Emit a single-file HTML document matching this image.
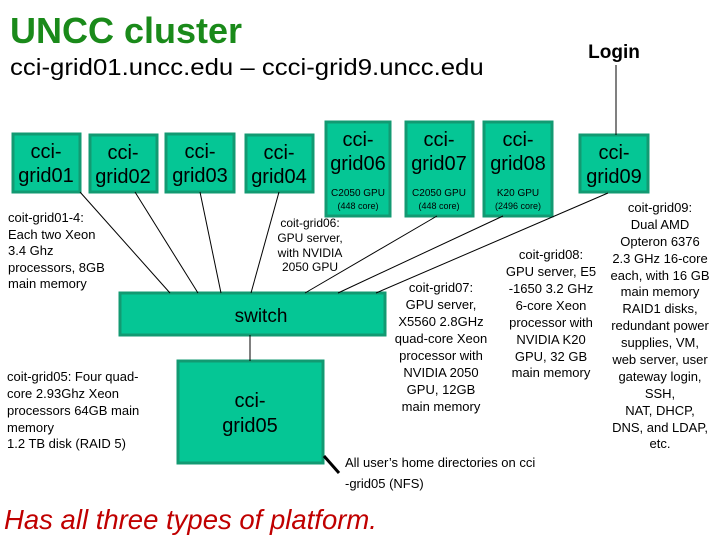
<!DOCTYPE html>
<html><head><meta charset="utf-8"><style>
body{margin:0;background:#fff}
svg{display:block}
text{font-family:"Liberation Sans",sans-serif}
</style></head><body>
<svg width="720" height="540" viewBox="0 0 720 540" xmlns="http://www.w3.org/2000/svg">
<g fill="#05c695" stroke="#129a72" stroke-width="3">
<rect x="13" y="134" width="67" height="58"/>
<rect x="90" y="135" width="67" height="57"/>
<rect x="166" y="134" width="68" height="58"/>
<rect x="246" y="135" width="67" height="57"/>
<rect x="326" y="122" width="64" height="94"/>
<rect x="406" y="122" width="67" height="94"/>
<rect x="484" y="122" width="68" height="94"/>
<rect x="580" y="135" width="68" height="57"/>
<rect x="120" y="293" width="265" height="42"/>
<rect x="178" y="361" width="145" height="102"/>
</g>
<g stroke="#000" stroke-width="1" fill="none">
<line x1="80" y1="192" x2="170" y2="293"/>
<line x1="135" y1="192" x2="198" y2="293"/>
<line x1="200" y1="192" x2="221" y2="293"/>
<line x1="279" y1="192" x2="251" y2="293"/>
<line x1="437" y1="216" x2="305" y2="293"/>
<line x1="503" y1="216" x2="338" y2="293"/>
<line x1="608" y1="193" x2="376" y2="293"/>
<line x1="250" y1="335" x2="250" y2="361"/>
<line x1="616" y1="65" x2="616" y2="135"/>
<line x1="324" y1="456" x2="339" y2="473" stroke-width="3"/>
</g>
<text x="10" y="43" font-size="36" font-weight="bold" fill="#1a8a1a">UNCC cluster</text>
<text x="10" y="75" font-size="23" fill="#000" transform="scale(1.12,1)" style="transform-origin:10px 0">cci-grid01.uncc.edu – ccci-grid9.uncc.edu</text>
<text x="614" y="58" font-size="19" font-weight="bold" text-anchor="middle">Login</text>
<g font-size="20" text-anchor="middle" fill="#000">
<text x="46" y="158">cci-</text><text x="46" y="182">grid01</text>
<text x="123" y="159">cci-</text><text x="123" y="183">grid02</text>
<text x="200" y="158">cci-</text><text x="200" y="182">grid03</text>
<text x="279" y="159">cci-</text><text x="279" y="183">grid04</text>
<text x="358" y="146">cci-</text><text x="358" y="170">grid06</text>
<text x="439" y="146">cci-</text><text x="439" y="170">grid07</text>
<text x="518" y="146">cci-</text><text x="518" y="170">grid08</text>
<text x="614" y="159">cci-</text><text x="614" y="183">grid09</text>
<text x="250" y="407">cci-</text><text x="250" y="432">grid05</text>
<text x="261" y="322" font-size="19">switch</text>
</g>
<g font-size="10" text-anchor="middle" fill="#000">
<text x="358" y="196">C2050 GPU</text><text x="358" y="209" font-size="9">(448 core)</text>
<text x="439" y="196">C2050 GPU</text><text x="439" y="209" font-size="9">(448 core)</text>
<text x="518" y="196">K20 GPU</text><text x="518" y="209" font-size="9">(2496 core)</text>
</g>
<g font-size="13" fill="#000">
<text x="8" y="222">coit-grid01-4:</text><text x="8" y="239">Each two Xeon</text><text x="8" y="255">3.4 Ghz</text><text x="8" y="272">processors, 8GB</text><text x="8" y="288">main memory</text>
<text x="7" y="381">coit-grid05: Four quad-</text><text x="7" y="398">core 2.93Ghz Xeon</text><text x="7" y="415">processors 64GB main</text><text x="7" y="432">memory</text><text x="7" y="448">1.2 TB disk (RAID 5)</text>
<text x="345" y="467">All user’s home directories on cci</text><text x="345" y="488">-grid05 (NFS)</text>
</g>
<g font-size="12" fill="#000" text-anchor="middle">
<text x="310" y="227">coit-grid06:</text><text x="310" y="242">GPU server,</text><text x="310" y="257">with NVIDIA</text><text x="310" y="271">2050 GPU</text>
</g>
<g font-size="13" fill="#000" text-anchor="middle">
<text x="441" y="292">coit-grid07:</text><text x="441" y="309">GPU server,</text><text x="441" y="326">X5560 2.8GHz</text><text x="441" y="343">quad-core Xeon</text><text x="441" y="360">processor with</text><text x="441" y="377">NVIDIA 2050</text><text x="441" y="394">GPU, 12GB</text><text x="441" y="411">main memory</text>
<text x="551" y="259">coit-grid08:</text><text x="551" y="276">GPU server, E5</text><text x="551" y="293">-1650 3.2 GHz</text><text x="551" y="310">6-core Xeon</text><text x="551" y="327">processor with</text><text x="551" y="344">NVIDIA K20</text><text x="551" y="361">GPU, 32 GB</text><text x="551" y="377">main memory</text>
<text x="660" y="212">coit-grid09:</text><text x="660" y="229">Dual AMD</text><text x="660" y="246">Opteron 6376</text><text x="660" y="263">2.3 GHz 16-core</text><text x="660" y="280">each, with 16 GB</text><text x="660" y="296">main memory</text><text x="660" y="313">RAID1 disks,</text><text x="660" y="330">redundant power</text><text x="660" y="347">supplies, VM,</text><text x="660" y="364">web server, user</text><text x="660" y="381">gateway login,</text><text x="660" y="398">SSH,</text><text x="660" y="415">NAT, DHCP,</text><text x="660" y="432">DNS, and LDAP,</text><text x="660" y="448">etc.</text>
</g>
<text x="4" y="529" font-size="27.5" font-style="italic" fill="#c00000">Has all three types of platform.</text>
</svg>
</body></html>
